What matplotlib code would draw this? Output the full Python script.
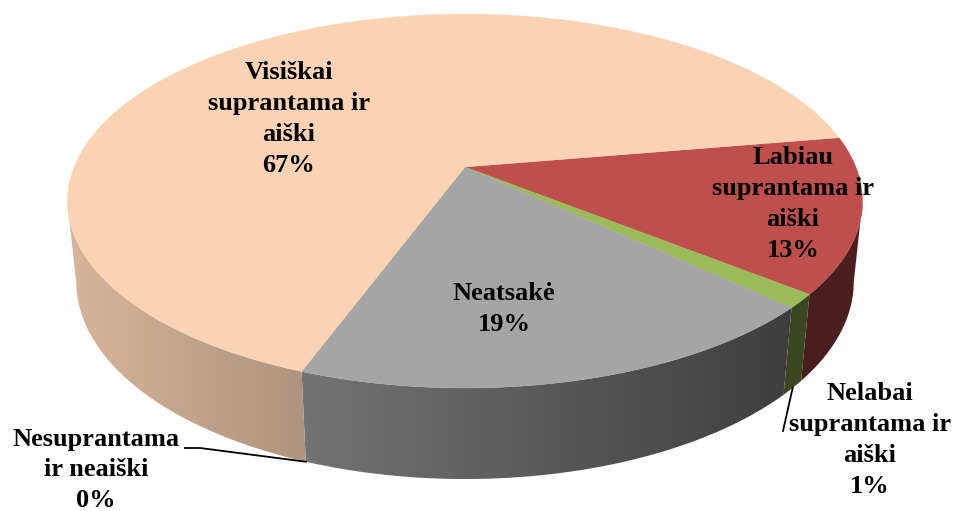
import matplotlib
matplotlib.use('Agg')
import matplotlib.pyplot as plt
import numpy as np

categories = ['Labiau\nsuprantama ir\naiški', 'Nelabai\nsuprantama ir\naiški', 'Neatsakė',
              'Nesuprantama\nir neaiški', 'Visiškai\nsuprantama ir\naiški']
values = [13.4, 1.2, 18.7, 0.0, 66.7]
colors = ['#BE4F4D', '#9BBB59', '#A5A5A5', '#8064A2', '#FAD3B4']

label_x = [793, 870, 504, 96, 289]
label_y = [204, 440, 309, 470, 119]

start_angle = 9.6
cx, cy = 465, 167
a, b, k, m, h = 390.9, 180.8, 0.182, 0.022, 81.3


def project(ang, r=1.0, z=0.0):
    # pie plane to screen pixels, with perspective
    u = r * np.cos(np.radians(ang))
    v = r * np.sin(np.radians(ang))
    w = 1 + k * v + m * z
    return cx + a * u / w, cy + (-b * v + h * z) / w


def shade(x):
    return np.interp(x, [67, 303, 790, 860], [0.86, 0.70, 0.38, 0.40])


def main():
    fig = plt.figure(figsize=[9.56, 5.11], dpi=100)
    ax = fig.add_axes([0, 0, 1, 1])
    ax.set_xlim(0, 956)
    ax.set_ylim(511, 0)
    ax.axis('off')

    # slices run clockwise from start_angle
    ends = start_angle - np.cumsum(values) * 3.6
    starts = np.concatenate([[start_angle], ends[:-1]])

    # outer wall: horizontal gradient clipped to the visible part of each slice
    xs_all = np.arange(956) + 0.5
    for s, e, c in zip(starts, ends, colors):
        if s == e:
            continue
        angs = np.linspace(s, e, 600)
        angs = angs[np.sin(np.radians(angs)) <= -k]
        x_top, y_top = project(angs)
        x_bot, y_bot = project(angs, z=1)
        strip, = ax.fill(np.r_[x_top, x_bot[::-1]], np.r_[y_top, y_bot[::-1]], color='none', lw=0)
        grad = np.outer(shade(xs_all), matplotlib.colors.to_rgb(c))[np.newaxis, :, :]
        im = ax.imshow(grad, extent=(0, 956, 511, 0), aspect='auto', interpolation='nearest')
        im.set_clip_path(strip)
    ax.set_xlim(0, 956)
    ax.set_ylim(511, 0)

    # top face
    for s, e, c in zip(starts, ends, colors):
        if s == e:
            continue
        angs = np.linspace(s, e, 200)
        xs, ys = project(angs)
        ax.fill(np.r_[cx, xs], np.r_[cy, ys], color=c, lw=0.2)

    # leader lines
    nx, ny = project(starts[3], z=1)
    ax.plot([185, 200, nx], [448, 448, ny], color='black', lw=1.3)
    lx, ly = project((starts[1] + ends[1]) / 2, z=1)
    ax.plot([lx, 783], [ly, 431], color='black', lw=1.3)

    for name, val, x, y in zip(categories, values, label_x, label_y):
        ax.text(x, y, '%s\n%.0f%%' % (name, val), ha='center', va='center', multialignment='center',
                family='Liberation Serif', fontweight='bold', fontsize=19, linespacing=1.43, color='black')

    fig.savefig('out.png', dpi=100)
    return 0


if __name__ == '__main__':
    main()
